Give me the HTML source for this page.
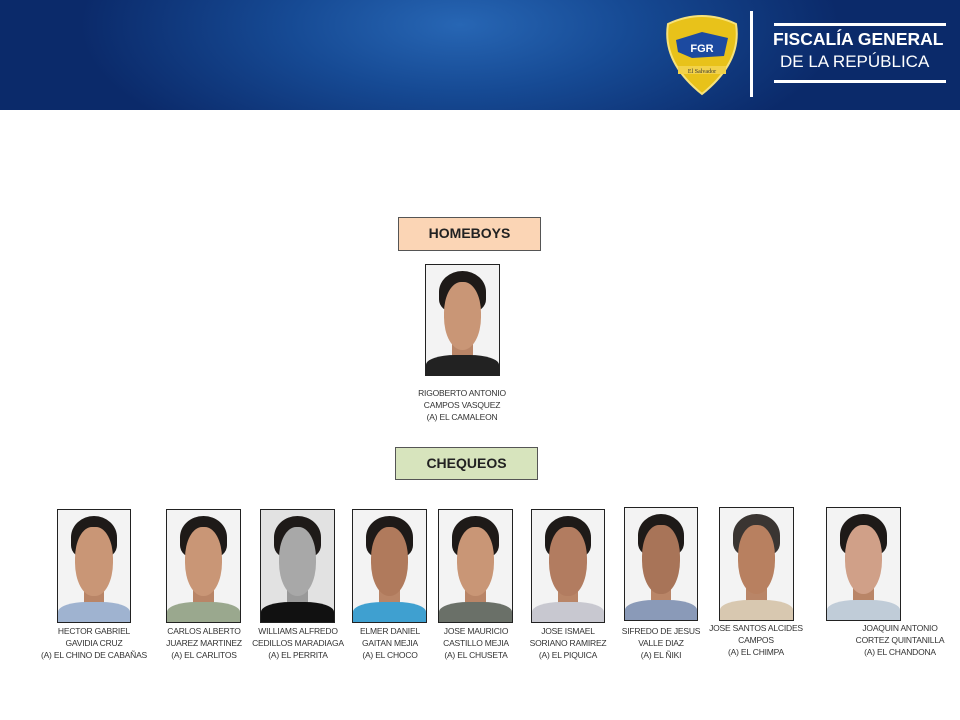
<!DOCTYPE html>
<html><head><meta charset="utf-8"><style>
*{margin:0;padding:0;box-sizing:border-box}
body{width:960px;height:720px;background:#fff;position:relative;overflow:hidden;font-family:"Liberation Sans",sans-serif}
.hdr{position:absolute;left:0;top:0;width:960px;height:110px;background:radial-gradient(ellipse 380px 150px at 460px 25px,#2766b4 0%,#164a94 45%,#0b2a6a 100%)}
.box{position:absolute;border:1.5px solid #555;font-weight:bold;font-size:14px;text-align:center;color:#222}
.p{position:absolute;border:1.5px solid #222;background:#f3f3f3;overflow:hidden}
.p .hair{position:absolute;left:18%;top:5%;width:64%;height:38%;background:#1e1a18;border-radius:50% 50% 30% 30%}
.p .face{position:absolute;left:24%;top:15%;width:52%;height:62%;background:#c99676;border-radius:45% 45% 48% 48%}
.p .neck{position:absolute;left:36%;top:66%;width:28%;height:20%;background:#b98567}
.p .shirt{position:absolute;left:0;top:82%;width:100%;height:22%;background:#8a9aae;border-radius:40% 40% 0 0}
.l{position:absolute;width:140px;text-align:center;font-size:8.5px;line-height:12px;color:#333;letter-spacing:-0.2px}
</style></head><body>
<div class="hdr"></div>
<svg style="position:absolute;left:662px;top:12px" width="80" height="84" viewBox="0 0 80 84">
<path d="M6 12 Q40 -4 74 12 Q80 50 40 82 Q0 50 6 12Z" fill="#e8c21a" stroke="#f7e27a" stroke-width="2"/>
<path d="M14 28 L40 20 L66 26 L62 44 L30 46 L16 40Z" fill="#1c4aa0"/>
<text x="40" y="40" font-size="11" font-weight="bold" fill="#fff" text-anchor="middle" font-family="Liberation Sans">FGR</text>
<rect x="16" y="54" width="48" height="8" fill="#f2d24a"/>
<text x="40" y="61" font-size="6" fill="#333" text-anchor="middle" font-family="Liberation Serif">El Salvador</text>
</svg>
<div style="position:absolute;left:750px;top:11px;width:3px;height:86px;background:#fff"></div>
<div style="position:absolute;left:774px;top:23px;width:172px;height:3px;background:#fff"></div>
<div style="position:absolute;left:774px;top:80px;width:172px;height:3px;background:#fff"></div>
<div style="position:absolute;left:773px;top:29px;color:#fff;font-weight:bold;font-size:17.5px;white-space:nowrap">FISCALÍA GENERAL</div>
<div style="position:absolute;left:780px;top:52px;color:#fff;font-size:17px;white-space:nowrap">DE LA REPÚBLICA</div>

<div class="box" style="left:398px;top:217px;width:143px;height:34px;background:#fbd5b5;line-height:31px">HOMEBOYS</div>
<div class="box" style="left:395px;top:447px;width:143px;height:33px;background:#d7e4bd;line-height:30px">CHEQUEOS</div>

<div class="p" style="left:425px;top:264px;width:75px;height:112px"><div class="hair"></div><div class="neck"></div><div class="face"></div><div class="shirt" style="background:#222"></div></div>
<div class="l" style="left:392px;top:387px">RIGOBERTO ANTONIO<br>CAMPOS VASQUEZ<br>(A) EL CAMALEON</div>

<div class="p" style="left:57px;top:509px;width:74px;height:114px"><div class="hair"></div><div class="neck"></div><div class="face"></div><div class="shirt" style="background:#9fb3d0"></div></div>
<div class="p" style="left:166px;top:509px;width:75px;height:114px"><div class="hair"></div><div class="neck"></div><div class="face"></div><div class="shirt" style="background:#9aa88e"></div></div>
<div class="p" style="left:260px;top:509px;width:75px;height:114px;background:#e2e2e2"><div class="hair"></div><div class="neck" style="background:#999"></div><div class="face" style="background:#a8a8a8"></div><div class="shirt" style="background:#111"></div></div>
<div class="p" style="left:352px;top:509px;width:75px;height:114px"><div class="hair"></div><div class="neck"></div><div class="face" style="background:#b07a5c"></div><div class="shirt" style="background:#3fa0d0"></div></div>
<div class="p" style="left:438px;top:509px;width:75px;height:114px"><div class="hair"></div><div class="neck"></div><div class="face"></div><div class="shirt" style="background:#6a7068"></div></div>
<div class="p" style="left:531px;top:509px;width:74px;height:114px"><div class="hair"></div><div class="neck"></div><div class="face" style="background:#b27c60"></div><div class="shirt" style="background:#c8c8d0"></div></div>
<div class="p" style="left:624px;top:507px;width:74px;height:114px"><div class="hair"></div><div class="neck"></div><div class="face" style="background:#a87458"></div><div class="shirt" style="background:#8a9ab8"></div></div>
<div class="p" style="left:719px;top:507px;width:75px;height:114px"><div class="hair" style="background:#3a3532"></div><div class="neck"></div><div class="face" style="background:#b88060"></div><div class="shirt" style="background:#d8c8b0"></div></div>
<div class="p" style="left:826px;top:507px;width:75px;height:114px"><div class="hair"></div><div class="neck"></div><div class="face" style="background:#d0a088"></div><div class="shirt" style="background:#c0ccd8"></div></div>

<div class="l" style="left:24px;top:625px">HECTOR GABRIEL<br>GAVIDIA CRUZ<br>(A) EL CHINO DE CABAÑAS</div>
<div class="l" style="left:134px;top:625px">CARLOS ALBERTO<br>JUAREZ MARTINEZ<br>(A) EL CARLITOS</div>
<div class="l" style="left:228px;top:625px">WILLIAMS ALFREDO<br>CEDILLOS MARADIAGA<br>(A) EL PERRITA</div>
<div class="l" style="left:320px;top:625px">ELMER DANIEL<br>GAITAN MEJIA<br>(A) EL CHOCO</div>
<div class="l" style="left:406px;top:625px">JOSE MAURICIO<br>CASTILLO MEJIA<br>(A) EL CHUSETA</div>
<div class="l" style="left:498px;top:625px">JOSE ISMAEL<br>SORIANO RAMIREZ<br>(A) EL PIQUICA</div>
<div class="l" style="left:591px;top:625px">SIFREDO DE JESUS<br>VALLE DIAZ<br>(A) EL ÑIKI</div>
<div class="l" style="left:686px;top:622px">JOSE SANTOS ALCIDES<br>CAMPOS<br>(A) EL CHIMPA</div>
<div class="l" style="left:830px;top:622px">JOAQUIN ANTONIO<br>CORTEZ QUINTANILLA<br>(A) EL CHANDONA</div>
</body></html>
